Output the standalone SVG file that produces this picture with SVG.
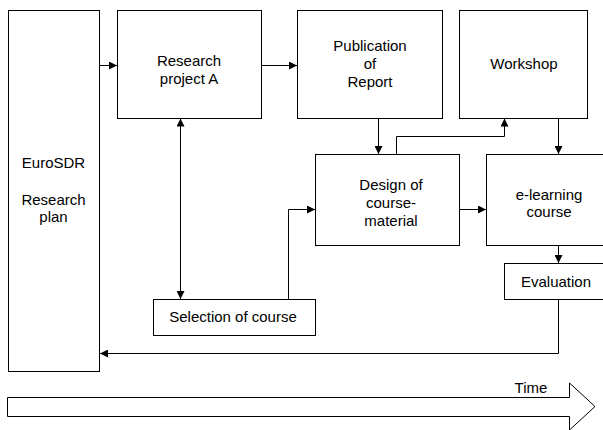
<svg xmlns="http://www.w3.org/2000/svg" width="603" height="430" viewBox="0 0 603 430">
<style>
.box{fill:#fff;stroke:#000;stroke-width:1}
.t{font-family:"Liberation Sans",Arial,sans-serif;font-size:15px;fill:#000;text-anchor:middle}
.c{fill:none;stroke:#000;stroke-width:1}
</style>
<defs>
<marker id="ah" viewBox="0 0 10 10" refX="10" refY="5" markerWidth="8" markerHeight="8" markerUnits="userSpaceOnUse" orient="auto-start-reverse">
<path d="M0,0 L10,5 L0,10 Z" fill="#000"/>
</marker>
</defs>
<rect width="603" height="430" fill="#fff"/>
<g id="connectors">
<line class="c" x1="99.5" y1="65.5" x2="117" y2="65.5" marker-end="url(#ah)"/>
<line class="c" x1="261.5" y1="65.5" x2="297" y2="65.5" marker-end="url(#ah)"/>
<line class="c" x1="378.5" y1="118.5" x2="378.5" y2="154" marker-end="url(#ah)"/>
<polyline class="c" points="396.5,154.5 396.5,136.5 504.5,136.5 504.5,118.5" marker-end="url(#ah)"/>
<line class="c" x1="558.5" y1="118.5" x2="558.5" y2="154" marker-end="url(#ah)"/>
<line class="c" x1="180.5" y1="118.5" x2="180.5" y2="299" marker-start="url(#ah)" marker-end="url(#ah)"/>
<polyline class="c" points="288.5,299.5 288.5,209.5 315,209.5" marker-end="url(#ah)"/>
<line class="c" x1="459.5" y1="209.5" x2="486" y2="209.5" marker-end="url(#ah)"/>
<line class="c" x1="558.5" y1="245.5" x2="558.5" y2="263" marker-end="url(#ah)"/>
<polyline class="c" points="558.5,299.5 558.5,353.5 100,353.5" marker-end="url(#ah)"/>
</g>
<g id="eurosdr">
<rect class="box" x="8.5" y="10.5" width="91" height="361"/>
<text class="t" x="53.5" y="168">EuroSDR</text>
<text class="t" x="53.5" y="205">Research</text>
<text class="t" x="53.5" y="222">plan</text>
</g>
<g id="research-project-a">
<rect class="box" x="117.5" y="10.5" width="144" height="108"/>
<text class="t" x="189" y="66">Research</text>
<text class="t" x="189" y="84">project A</text>
</g>
<g id="publication">
<rect class="box" x="297.5" y="10.5" width="145" height="108"/>
<text class="t" x="370" y="51">Publication</text>
<text class="t" x="370" y="69">of</text>
<text class="t" x="370" y="87">Report</text>
</g>
<g id="workshop">
<rect class="box" x="459.5" y="10.5" width="128" height="108"/>
<text class="t" x="524" y="69">Workshop</text>
</g>
<g id="design">
<rect class="box" x="315.5" y="154.5" width="144" height="91"/>
<text class="t" x="391" y="190">Design of</text>
<text class="t" x="391" y="208">course-</text>
<text class="t" x="391" y="226">material</text>
</g>
<g id="elearning">
<rect class="box" x="486.5" y="154.5" width="130" height="91"/>
<text class="t" x="549" y="200">e-learning</text>
<text class="t" x="549" y="217">course</text>
</g>
<g id="evaluation">
<rect class="box" x="504.5" y="263.5" width="110" height="36"/>
<text class="t" x="556" y="287">Evaluation</text>
</g>
<g id="selection">
<rect class="box" x="153.5" y="299.5" width="162" height="36"/>
<text class="t" x="233" y="322">Selection of course</text>
</g>
<g id="time">
<polygon class="box" points="7.5,397.5 569.5,397.5 569.5,383 595,406.5 569.5,430 569.5,416.5 7.5,416.5"/>
<text class="t" x="531" y="393">Time</text>
</g>
</svg>
